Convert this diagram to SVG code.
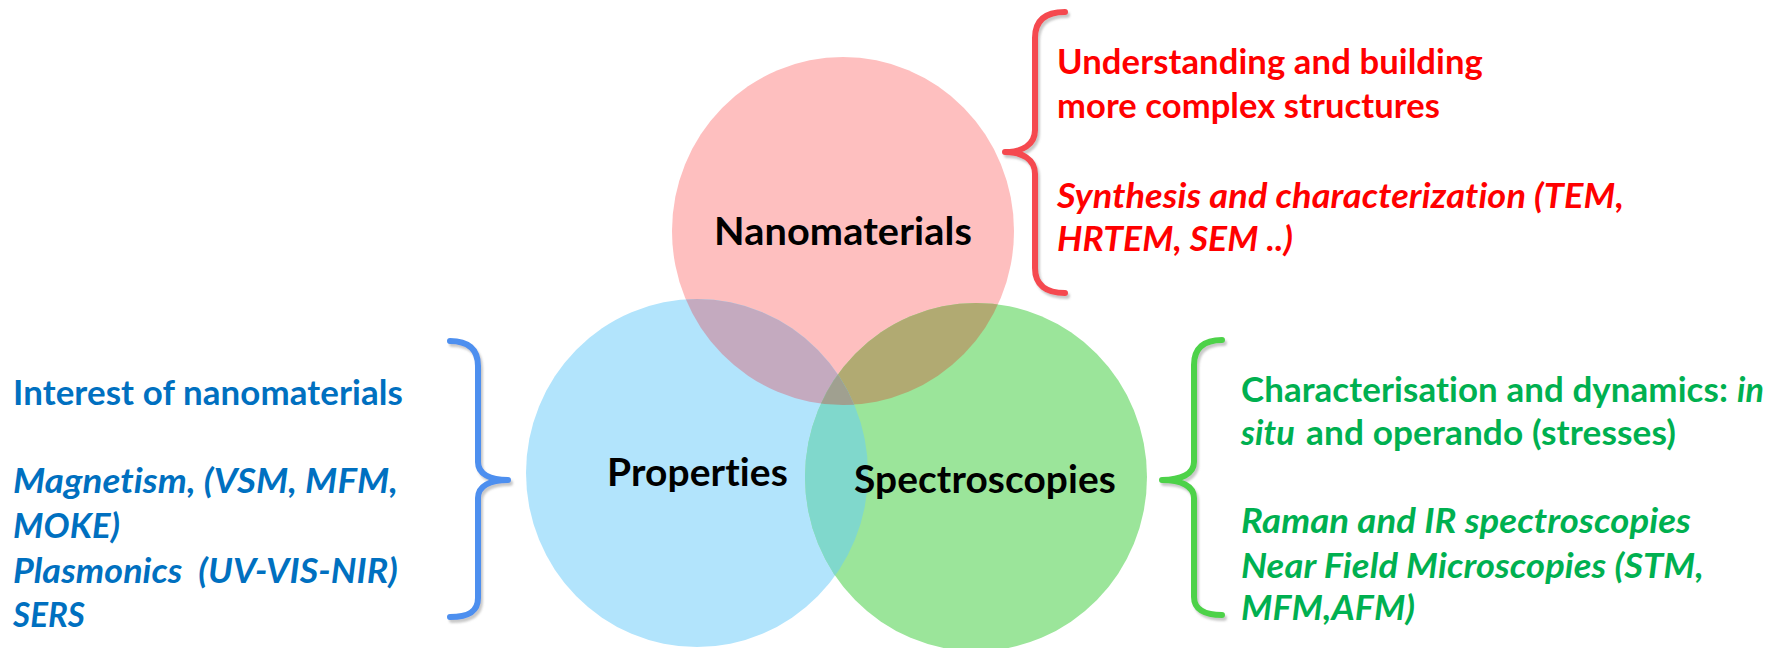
<svg xmlns="http://www.w3.org/2000/svg" width="1783" height="648" viewBox="0 0 1783 648">
<style>
text{font-variant-ligatures:none;font-feature-settings:"liga" 0,"clig" 0,"dlig" 0,"calt" 0;letter-spacing:0.1px}
.lbl{font-family:Lato,"Liberation Sans",sans-serif;font-weight:bold;font-size:39px;fill:#000}
.t{font-family:Lato,"Liberation Sans",sans-serif;font-weight:bold;font-size:34px}
.i{font-style:italic}
.red{fill:#FF0000}
.blue{fill:#0070C0}
.green{fill:#00B050}
.brace{fill:none;stroke-width:6;stroke-linecap:round;stroke-linejoin:round}
</style>
<defs>
<ellipse id="eP" cx="843" cy="231" rx="171" ry="174"/>
<ellipse id="eB" cx="697" cy="473" rx="171" ry="174"/>
<ellipse id="eG" cx="976" cy="477" rx="171" ry="174"/>
<clipPath id="cP"><use href="#eP"/></clipPath>
<clipPath id="cB"><use href="#eB"/></clipPath>
<clipPath id="cG"><use href="#eG"/></clipPath>
<filter id="sh" x="-20%" y="-5%" width="150%" height="115%">
<feDropShadow dx="2" dy="3" stdDeviation="1.2" flood-color="#888" flood-opacity="0.45"/>
</filter>
</defs>
<rect width="1783" height="648" fill="#fff"/>

<g id="node-nanomaterials">
<use href="#eP" fill="#FEBFBF"/>
</g>
<g id="node-properties">
<use href="#eB" fill="#B2E4FC"/>
</g>
<g id="node-spectroscopies">
<use href="#eG" fill="#9BE59A"/>
</g>
<g id="overlaps">
<use href="#eB" fill="#C4AABF" clip-path="url(#cP)"/>
<use href="#eG" fill="#B1AA72" clip-path="url(#cP)"/>
<use href="#eG" fill="#80D8CC" clip-path="url(#cB)"/>
<g clip-path="url(#cB)"><use href="#eG" fill="#A0A090" clip-path="url(#cP)"/></g>
</g>
<g id="labels">
<text class="lbl" x="714" y="245" textLength="258" lengthAdjust="spacingAndGlyphs">Nanomaterials</text>
<text class="lbl" x="607" y="486" textLength="181" lengthAdjust="spacingAndGlyphs">Properties</text>
<text class="lbl" x="854" y="493" textLength="262" lengthAdjust="spacingAndGlyphs">Spectroscopies</text>
</g>

<g id="connectors" filter="url(#sh)">
<path class="brace" stroke="#F5484F" d="M1065,12 C1046,12 1035,20 1035,38 L1035,130 C1035,145 1022,152 1005,152 C1022,152 1035,159 1035,174 L1035,268 C1035,285 1046,293 1065,293"/>
<path class="brace" stroke="#4D8FEF" d="M450,341 C468,341 478,349 478,366 L478,462 C478,474 490,480 508,480 C490,480 478,486 478,498 L478,598 C478,612 468,617 450,617"/>
<path class="brace" stroke="#4ED24A" d="M1222,340 C1204,340 1194,348 1194,365 L1194,462 C1194,474 1181,480 1162,480 C1181,480 1194,486 1194,498 L1194,597 C1194,609 1204,615 1222,615"/>
</g>

<g id="text-nanomaterials">
<text class="t red" x="1057" y="74" textLength="426" lengthAdjust="spacingAndGlyphs">Understanding and building</text>
<text class="t red" x="1057" y="118" textLength="383" lengthAdjust="spacingAndGlyphs">more complex structures</text>
<text class="t red i" x="1057" y="208" textLength="567" lengthAdjust="spacingAndGlyphs">Synthesis and characterization (TEM,</text>
<text class="t red i" x="1057" y="251" textLength="236" lengthAdjust="spacingAndGlyphs">HRTEM, SEM ..)</text>
</g>

<g id="text-properties">
<text class="t blue" x="13" y="405" textLength="390" lengthAdjust="spacingAndGlyphs">Interest of nanomaterials</text>
<text class="t blue i" x="13" y="493" textLength="385" lengthAdjust="spacingAndGlyphs">Magnetism, (VSM, MFM,</text>
<text class="t blue i" x="13" y="538" textLength="107" lengthAdjust="spacingAndGlyphs">MOKE)</text>
<text class="t blue i" x="13" y="583" textLength="385" lengthAdjust="spacingAndGlyphs" xml:space="preserve">Plasmonics  (UV-VIS-NIR)</text>
<text class="t blue i" x="13" y="627" textLength="72" lengthAdjust="spacingAndGlyphs">SERS</text>
</g>

<g id="text-spectroscopies">
<text class="t green" x="1241" y="402" textLength="487" lengthAdjust="spacingAndGlyphs">Characterisation and dynamics:</text>
<text class="t green i" x="1737" y="402" textLength="27" lengthAdjust="spacingAndGlyphs">in</text>
<text class="t green i" x="1241" y="445" textLength="54" lengthAdjust="spacingAndGlyphs">situ</text>
<text class="t green" x="1306" y="445" textLength="370" lengthAdjust="spacingAndGlyphs">and operando (stresses)</text>
<text class="t green i" x="1241" y="533" textLength="450" lengthAdjust="spacingAndGlyphs">Raman and IR spectroscopies</text>
<text class="t green i" x="1241" y="578" textLength="463" lengthAdjust="spacingAndGlyphs">Near Field Microscopies (STM,</text>
<text class="t green i" x="1241" y="620" textLength="174" lengthAdjust="spacingAndGlyphs">MFM,AFM)</text>
</g>
</svg>
